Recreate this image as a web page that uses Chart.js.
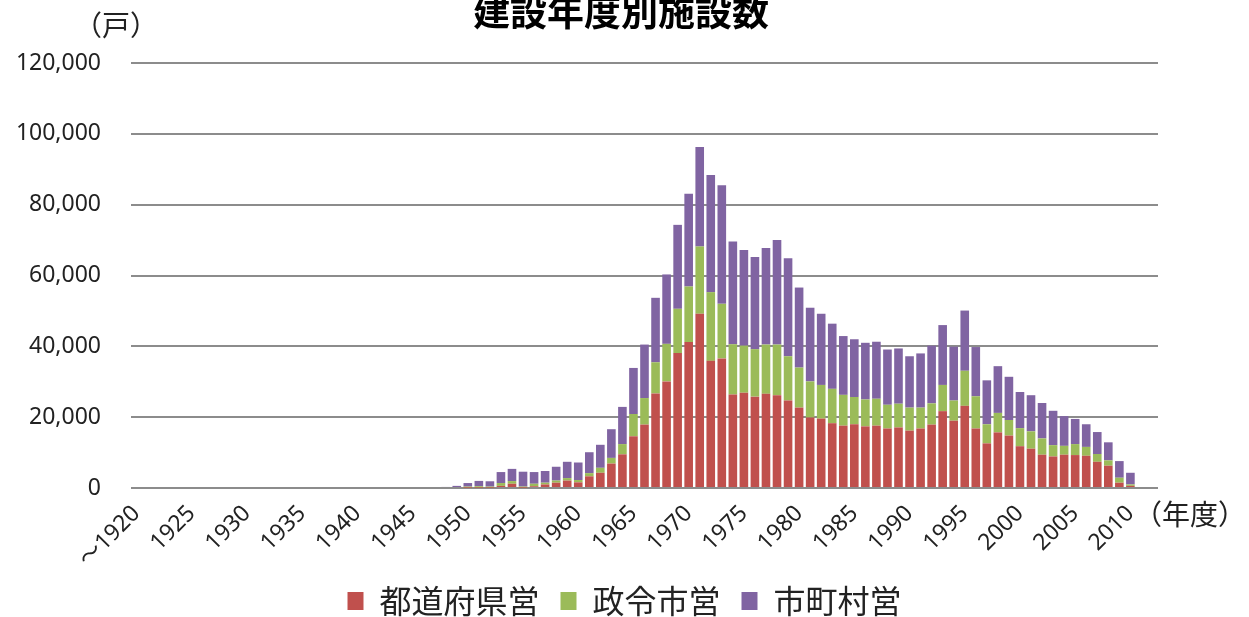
<!DOCTYPE html>
<html>
<head>
<meta charset="utf-8">
<script src="https://cdn.jsdelivr.net/npm/chart.js@4/dist/chart.umd.min.js"></script>
<style>
  html, body { margin: 0; padding: 0; background: #fff; }
  #wrap { width: 1249px; height: 617px; }
</style>
</head>
<body>
<div id="wrap"><canvas id="myChart" width="1249" height="617"></canvas></div>
<script>
// 年度 (1920 = ～1920)
var years = [
  "～1920","1921","1922","1923","1924","1925","1926","1927","1928","1929",
  "1930","1931","1932","1933","1934","1935","1936","1937","1938","1939",
  "1940","1941","1942","1943","1944","1945","1946","1947","1948","1949",
  "1950","1951","1952","1953","1954","1955","1956","1957","1958","1959",
  "1960","1961","1962","1963","1964","1965","1966","1967","1968","1969",
  "1970","1971","1972","1973","1974","1975","1976","1977","1978","1979",
  "1980","1981","1982","1983","1984","1985","1986","1987","1988","1989",
  "1990","1991","1992","1993","1994","1995","1996","1997","1998","1999",
  "2000","2001","2002","2003","2004","2005","2006","2007","2008","2009",
  "2010","2011","2012"
];

// 都道府県営 (戸)
var prefValues = [
  0,0,0,0,0,0,0,0,0,0, 0,0,0,0,0,0,0,0,0,0, 0,0,0,0,0,0,0,0,0,0,
  100,100,100,600,1200,100,500,1000,1500,2100,
  1600,3300,4300,6900,9500,14600,17900,26700,30100,38100,
  41200,49200,35900,36600,26400,26900,25800,26600,26200,24700,
  22700,19900,19600,18300,17600,18000,17400,17600,16800,17100,
  16200,16800,17900,21700,19000,23200,16800,12600,15700,14800,
  11800,11100,9400,8900,9400,9300,9100,7400,6300,1500,
  600,0,0
];

// 政令市営 (戸)
var cityValues = [
  0,0,0,0,0,0,0,0,0,0, 0,0,0,0,0,0,0,0,0,0, 0,0,0,0,0,0,0,0,0,0,
  300,400,300,800,750,300,700,500,600,700,
  650,900,1400,1600,2900,6300,7500,8800,10600,12500,
  15700,19000,19400,15400,14200,13300,13400,13900,14300,12500,
  11300,10200,9500,9700,8700,7700,7600,7600,6700,6700,
  6500,5900,6000,7400,5700,9900,9100,5400,5500,4400,
  5100,4900,4600,3200,2500,3100,2500,2200,1500,1400,
  400,0,0
];

// 市町村営 (戸)
var townValues = [
  0,0,0,0,0,0,0,0,0,0, 0,0,0,0,0,0,0,0,0,0, 0,0,0,0,0,0,0,0,300,600,
  1000,1500,1500,3100,3450,4200,3300,3300,3900,4600,
  4950,5900,6500,8100,10500,13000,15100,18200,19600,23700,
  26200,28100,33100,33500,29000,27000,26000,27300,29500,27700,
  22600,20800,20100,18400,16600,16300,16000,16100,15600,15600,
  14500,15300,16300,16900,15200,17000,13900,12400,13200,12200,
  10200,10200,10000,9700,8400,7100,6400,6200,5100,4700,
  3300,0,0
];

var yTicks = [0, 20000, 40000, 60000, 80000, 100000, 120000];

var jpFont = "'Noto Sans CJK JP', 'Noto Sans', sans-serif";
var numFont = "'Noto Sans', 'Noto Sans CJK JP', sans-serif";

// extra texts: title, units
var extraText = {
  id: 'extraText',
  afterDraw: function(chart) {
    var c = chart.ctx;
    c.save();
    c.fillStyle = "#000";
    c.textBaseline = "middle";
    c.textAlign = "center";
    c.font = "bold 37px " + jpFont;
    c.fillText("建設年度別施設数", 621, 12);
    c.fillStyle = "#222";
    c.font = "28px " + jpFont;
    c.fillText("（戸）", 116, 25);
    c.textAlign = "left";
    c.fillText("（年度）", 1134, 514);
    c.restore();
  }
};

var ctx = document.getElementById("myChart");
var myChart = new Chart(ctx, {
  type: 'bar',
  data: {
    labels: years,
    datasets: [
      { label: "都道府県営", data: prefValues, backgroundColor: "#C0504D" },
      { label: "政令市営", data: cityValues, backgroundColor: "#9BBB59" },
      { label: "市町村営", data: townValues, backgroundColor: "#8064A2" }
    ]
  },
  options: {
    responsive: false,
    animation: false,
    layout: { padding: { top: 63, right: 0, left: 0, bottom: -10 } },
    datasets: {
      bar: { barPercentage: 0.78, categoryPercentage: 1.0 }
    },
    scales: {
      x: {
        stacked: true,
        grid: { display: false },
        border: { display: false },
        ticks: {
          autoSkip: false,
          maxRotation: 45,
          minRotation: 45,
          padding: 4,
          color: "#222",
          font: { family: numFont, size: 23 },
          callback: function(val, i) {
            return i % 5 === 0 ? years[i] : "";
          }
        },
        afterFit: function(scale) { scale.height = 76; }
      },
      y: {
        stacked: true,
        min: 0,
        max: 120000,
        afterBuildTicks: function(scale) {
          scale.ticks = yTicks.map(function(v) { return { value: v }; });
        },
        grid: { color: "#8c8c8c", lineWidth: 2, drawTicks: false },
        border: { display: false },
        ticks: {
          padding: 30,
          color: "#222",
          font: { family: numFont, size: 23 },
          callback: function(v) { return v.toLocaleString('en-US'); }
        },
        afterFit: function(scale) { scale.width = 131; }
      },
      // empty right margin
      yRight: {
        position: 'right',
        grid: { display: false },
        border: { display: false },
        ticks: { display: false },
        afterFit: function(scale) { scale.width = 91; }
      }
    },
    plugins: {
      legend: {
        display: true,
        position: 'bottom',
        labels: {
          boxWidth: 16,
          boxHeight: 18,
          padding: 21,
          color: "#222",
          font: { family: jpFont, size: 32 }
        }
      },
      title: { display: false },
      tooltip: { enabled: false }
    }
  },
  plugins: [extraText]
});
</script>
</body>
</html>
